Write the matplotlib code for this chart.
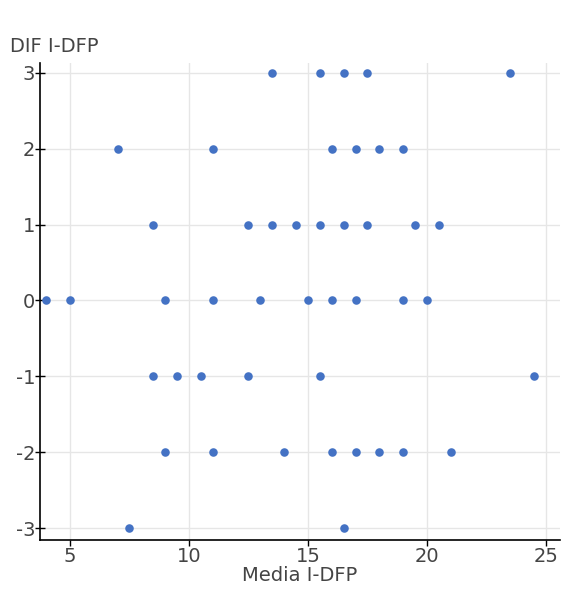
import matplotlib
matplotlib.use('Agg')
import matplotlib.pyplot as plt

# media vs. difference of I-DFP scores, grouped by difference value
media_p3 = [13.5, 15.5, 16.5, 17.5, 23.5]
media_p2 = [7, 11, 16, 17, 18, 19]
media_p1 = [8.5, 12.5, 13.5, 14.5, 15.5, 16.5, 17.5, 19.5, 20.5]
media_0 = [4, 5, 9, 11, 13, 15, 16, 17, 19, 20]
media_m1 = [8.5, 9.5, 10.5, 12.5, 15.5, 24.5]
media_m2 = [9, 11, 14, 16, 17, 18, 19, 21]
media_m3 = [7.5, 16.5]

groups = [(3, media_p3), (2, media_p2), (1, media_p1), (0, media_0),
          (-1, media_m1), (-2, media_m2), (-3, media_m3)]
media = [m for _, ms in groups for m in ms]
dif = [d for d, ms in groups for _ in ms]

plt.rcParams['font.family'] = ['DejaVu Sans']
plt.rcParams['axes.unicode_minus'] = False
TXT = '#444444'

fig = plt.figure(figsize=(5.61, 5.97), dpi=100)
ax = fig.add_axes([0.0713, 0.0955, 0.927, 0.799])
ax.scatter(media, dif, s=38, color='#4472C4', zorder=3, linewidths=0)

ax.set_xlim(3.74, 25.59)
ax.set_ylim(-3.158, 3.13)
ax.set_xticks([5, 10, 15, 20, 25])
ax.set_yticks([-3, -2, -1, 0, 1, 2, 3])
ax.grid(color='#e6e6e6', linewidth=1)
ax.set_axisbelow(True)
for s in ('top', 'right'):
  ax.spines[s].set_visible(False)
for s in ('left', 'bottom'):
  ax.spines[s].set_color('black')
  ax.spines[s].set_linewidth(1.2)
ax.tick_params(axis='x', direction='out', length=4, width=1, color='black',
               labelsize=14, labelcolor=TXT, pad=1)
ax.tick_params(axis='y', direction='inout', length=7, width=1, color='black',
               labelsize=14, labelcolor=TXT, pad=0)

ax.set_xlabel('Media I-DFP', fontsize=14, color=TXT, labelpad=0)
fig.text(0.018, 1 - 47 / 597, 'DIF I-DFP', fontsize=14, color=TXT,
         va='center', ha='left')

fig.savefig('out.png', dpi=100)
